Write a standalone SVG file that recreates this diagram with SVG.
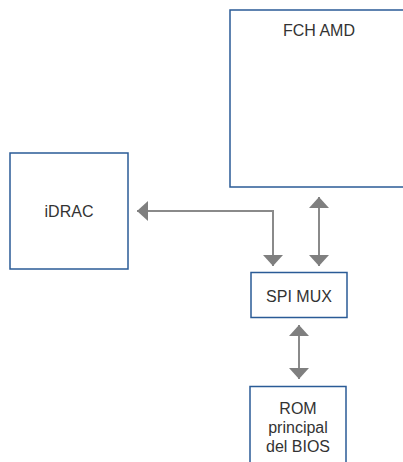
<svg xmlns="http://www.w3.org/2000/svg" width="403" height="462" viewBox="0 0 403 462">
<style>
.box{fill:#fff;stroke:#2a5b96;stroke-width:1.5}
.lbl{font-family:"Liberation Sans",Arial,sans-serif;font-size:16px;fill:#333;text-anchor:middle}
.conn{fill:none;stroke:#8a8a8a;stroke-width:2}
</style>
<defs>
<marker id="ah" viewBox="0 0 11 20" refX="11" refY="10" markerWidth="11" markerHeight="20" markerUnits="userSpaceOnUse" orient="auto-start-reverse">
<path d="M0,0 L11,10 L0,20 Z" fill="#7f7f7f"/>
</marker>
</defs>
<rect width="403" height="462" fill="#fff"/>
<g id="fch">
<rect class="box" x="230" y="10" width="178" height="177"/>
<text class="lbl" x="319" y="36">FCH AMD</text>
</g>
<g id="idrac">
<rect class="box" x="10" y="153" width="118" height="116"/>
<text class="lbl" x="69" y="217">iDRAC</text>
</g>
<g id="spimux">
<rect class="box" x="251" y="272.5" width="96" height="45"/>
<text class="lbl" x="299" y="302">SPI MUX</text>
</g>
<g id="rom">
<rect class="box" x="250" y="386.5" width="96" height="90"/>
<text class="lbl" x="298" y="414">ROM</text>
<text class="lbl" x="298" y="433">principal</text>
<text class="lbl" x="298" y="452">del BIOS</text>
</g>
<g id="connectors">
<path class="conn" d="M273,266 V211 H137" marker-start="url(#ah)" marker-end="url(#ah)"/>
<path class="conn" d="M319,197 V266" marker-start="url(#ah)" marker-end="url(#ah)"/>
<path class="conn" d="M299,325 V379" marker-start="url(#ah)" marker-end="url(#ah)"/>
</g>
</svg>
